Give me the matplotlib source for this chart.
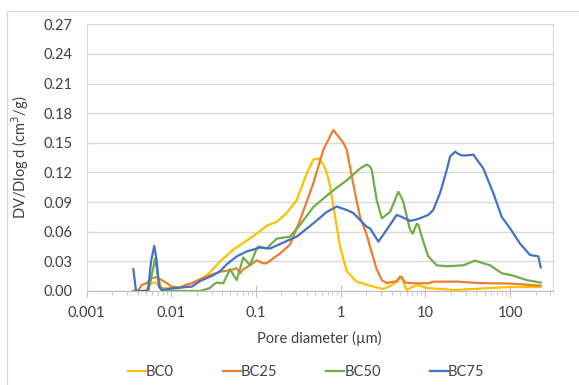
import matplotlib
matplotlib.use('Agg')
import matplotlib.pyplot as plt
from matplotlib.ticker import LogLocator, FixedLocator, FuncFormatter, NullFormatter
from matplotlib.patches import Rectangle

# pore size distribution, diameters in um, dV/dlog d in cm3/g
bc0_d = [0.00357, 0.00491, 0.00578, 0.00644, 0.00705, 0.00773, 0.0111, 0.01455, 0.01746,
         0.0209, 0.0262, 0.0287, 0.0377, 0.0541, 0.0778, 0.102, 0.134, 0.176, 0.231, 0.303,
         0.398, 0.476, 0.546, 0.625, 0.686, 0.75, 0.82, 0.90, 0.984, 1.18, 1.55, 2.43, 3.19,
         3.83, 4.59, 5.02, 5.26, 5.75, 6.03, 7.21, 8.26, 10.4, 14.9, 22.4, 36.9, 58.1, 100, 230]
bc0_v = [0.0, 0.0, 0.0078, 0.0088, 0.006, 0.003, 0.003, 0.005, 0.0078,
         0.011, 0.016, 0.019, 0.030, 0.042, 0.051, 0.058, 0.066, 0.070, 0.079, 0.092,
         0.119, 0.133, 0.134, 0.128, 0.120, 0.106, 0.086, 0.065, 0.045, 0.020, 0.0094, 0.0044, 0.002,
         0.005, 0.009, 0.013, 0.0145, 0.005, 0.001, 0.0044, 0.006, 0.003, 0.002, 0.001, 0.002, 0.003, 0.004, 0.004]

bc25_d = [0.00357, 0.00409, 0.00449, 0.00514, 0.00589, 0.00675, 0.00773, 0.00885, 0.01014,
          0.0127, 0.01455, 0.01746, 0.0209, 0.0262, 0.0377, 0.0494, 0.0593, 0.0649, 0.0710,
          0.0851, 0.102, 0.122, 0.134, 0.160, 0.193, 0.253, 0.332, 0.476, 0.625, 0.82, 1.077,
          1.18, 1.48, 1.694, 2.03, 2.22, 2.667, 3.06, 3.5, 4.59, 5.02, 5.26, 5.75, 7.21, 10.84,
          12.4, 23.5, 44.3, 100, 230]
bc25_v = [0.0, 0.001, 0.006, 0.008, 0.013, 0.014, 0.011, 0.008, 0.0044,
          0.003, 0.006, 0.0078, 0.011, 0.0145, 0.0195, 0.021, 0.023, 0.018, 0.022,
          0.026, 0.031, 0.028, 0.028, 0.033, 0.038, 0.047, 0.072, 0.109, 0.143, 0.163, 0.150,
          0.143, 0.099, 0.075, 0.057, 0.045, 0.022, 0.011, 0.008, 0.010, 0.0145, 0.014, 0.0085, 0.0078, 0.0078,
          0.0094, 0.0095, 0.008, 0.0075, 0.0054]

bc50_d = [0.00357, 0.00532, 0.00578, 0.00644, 0.00705, 0.00773, 0.0127, 0.0219, 0.0287,
          0.0312, 0.0344, 0.0412, 0.0494, 0.0593, 0.0710, 0.0851, 0.102, 0.107, 0.134, 0.176,
          0.253, 0.332, 0.476, 0.82, 1.18, 1.694, 2.03, 2.22, 2.33, 2.667, 3.06, 3.83, 4.80,
          5.26, 5.50, 6.59, 7.10, 7.91, 8.26, 9.47, 10.84, 13.6, 17.9, 28.1, 38.6, 58.1, 79.8,
          109, 157, 230]
bc50_v = [0.0, 0.0, 0.012, 0.033, 0.012, 0.001, 0.0, 0.0, 0.003,
          0.006, 0.0085, 0.0078, 0.022, 0.011, 0.034, 0.026, 0.043, 0.045, 0.043, 0.053,
          0.055, 0.067, 0.085, 0.102, 0.112, 0.124, 0.128, 0.126, 0.1225, 0.092, 0.0736, 0.080, 0.1005,
          0.094, 0.090, 0.062, 0.058, 0.068, 0.067, 0.050, 0.035, 0.026, 0.025, 0.026, 0.0307, 0.026, 0.018,
          0.0155, 0.011, 0.0085]

bc75_d = [0.00357, 0.00384, 0.00532, 0.00578, 0.00631, 0.00675, 0.00718, 0.00773, 0.0111,
          0.01746, 0.0219, 0.0262, 0.0314, 0.0377, 0.0452, 0.0593, 0.0778, 0.112, 0.147, 0.210,
          0.303, 0.476, 0.686, 0.90, 1.18, 1.41, 2.03, 2.22, 2.79, 3.19, 3.50, 4.59, 5.26, 6.59,
          7.55, 8.65, 10.84, 12.4, 14.9, 17.9, 19.6, 22.4, 25.5, 28.1, 36.9, 48.4, 63.5, 79.8,
          100, 131, 172, 216, 230]
bc75_v = [0.022, 0.0, 0.0, 0.030, 0.0456, 0.030, 0.004, 0.001, 0.003,
          0.0044, 0.010, 0.013, 0.016, 0.020, 0.027, 0.035, 0.040, 0.044, 0.043, 0.049,
          0.055, 0.0685, 0.080, 0.0855, 0.082, 0.079, 0.065, 0.0635, 0.050, 0.057, 0.062, 0.077, 0.075, 0.071,
          0.072, 0.0736, 0.077, 0.082, 0.099, 0.1225, 0.136, 0.141, 0.138, 0.137, 0.138, 0.124, 0.099, 0.075,
          0.0635, 0.048, 0.0365, 0.035, 0.024]

series = [('BC0', bc0_d, bc0_v, '#FFC000'),
          ('BC25', bc25_d, bc25_v, '#ED7D31'),
          ('BC50', bc50_d, bc50_v, '#70AD47'),
          ('BC75', bc75_d, bc75_v, '#4472C4')]

y_ticks = [0.00, 0.03, 0.06, 0.09, 0.12, 0.15, 0.18, 0.21, 0.24, 0.27]
x_ticks = [0.001, 0.01, 0.1, 1, 10, 100]

plt.rcParams['font.family'] = ['Lato', 'DejaVu Sans']
text_col = '#404040'
grid_col = '#D9D9D9'
fs = 10.5

fig = plt.figure(figsize=(5.79, 3.85), dpi=100)
ax = fig.add_axes([0.1494, 0.2442, 0.8052, 0.6927])

for name, d, v, col in series:
    ax.plot(d, v, color=col, lw=1.6, label=name, solid_joinstyle='round')

ax.set_xscale('log')
ax.set_xlim(0.001, 319)
ax.set_ylim(0, 0.27)
ax.set_yticks(y_ticks)
ax.yaxis.set_major_formatter(FuncFormatter(lambda v, p: '%.2f' % v))
ax.xaxis.set_major_locator(FixedLocator(x_ticks))
ax.xaxis.set_major_formatter(FuncFormatter(lambda v, p: '%g' % v))
ax.xaxis.set_minor_locator(LogLocator(base=10, subs=range(2, 10), numticks=20))
ax.xaxis.set_minor_formatter(NullFormatter())

ax.grid(axis='y', color=grid_col, lw=1)
ax.set_axisbelow(True)
for s in ax.spines.values():
    s.set_color(grid_col)
ax.spines['bottom'].set_color('#BFBFBF')

ax.tick_params(axis='y', length=0, pad=10, labelsize=fs, labelcolor=text_col)
ax.tick_params(axis='x', which='major', direction='inout', length=8, color='#BFBFBF',
               pad=7, labelsize=fs, labelcolor=text_col)
ax.tick_params(axis='x', which='minor', direction='out', length=3, color='#BFBFBF')

ax.set_xlabel('Pore diameter (µm)', fontsize=fs, color=text_col, labelpad=8)
fig.text(20 / 579, 1 - 157 / 385, 'DV/Dlog d (cm$^3$/g)', rotation=90, ha='center',
         va='center', fontsize=fs, color=text_col)

fig.legend(loc='center', bbox_to_anchor=(306 / 579, 1 - 372 / 385), ncol=4, frameon=False,
           fontsize=fs, handlelength=1.25, handletextpad=0.0, columnspacing=3.35,
           labelcolor=text_col)

fig.patches.append(Rectangle((7 / 579, -0.1), 1.2, 0.1 + (385 - 11) / 385, fill=False,
                             edgecolor=grid_col, lw=1, transform=fig.transFigure))

fig.savefig('out.png', dpi=100)
